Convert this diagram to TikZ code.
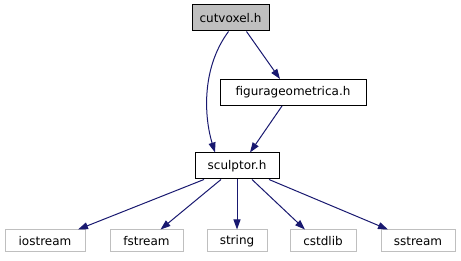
\documentclass[tikz,border=0pt]{standalone}
\usepackage{fontspec}
\setmainfont{DejaVu Sans}
\usepackage{tikz}
\usetikzlibrary{arrows.meta,positioning,calc}
\definecolor{edgeblue}{RGB}{25, 25, 112}
\definecolor{sysgray}{RGB}{191, 191, 191}
\tikzstyle{filebox} = [draw=black, rectangle, line width=1pt, inner sep=0, minimum height=26pt, font=\fontsize{12}{14}\selectfont]
\tikzstyle{sysbox} = [draw=sysgray, rectangle, line width=1pt, inner sep=0, minimum height=22pt, font=\fontsize{12}{14}\selectfont]
\tikzstyle{incl} = [draw=edgeblue, line width=1pt, -{Triangle[length=10pt,width=7pt]}]

\begin{document}
\begin{tikzpicture}[x=1pt,y=1pt]
    \useasboundingbox (0,0) rectangle (461,-261);
    % Headers of the project
    \node[filebox,fill=sysgray,minimum width=77pt] (cutvoxel) at (230.5,-18) {cutvoxel.h};
    \node[filebox,minimum width=146pt] (figura) at (293,-92.5) {figurageometrica.h};
    \node[filebox,minimum width=84pt] (sculptor) at (237,-166) {sculptor.h};
    % Standard library headers
    \node[sysbox,minimum width=80pt] (iostream) at (45,-241) {iostream};
    \node[sysbox,minimum width=73pt] (fstream) at (146.5,-241) {fstream};
    \node[sysbox,minimum width=60pt] (string) at (237,-241) {string};
    \node[sysbox,minimum width=66pt] (cstdlib) at (323,-241) {cstdlib};
    \node[sysbox,minimum width=74pt] (sstream) at (418,-241) {sstream};
    % Include edges
    \draw[incl] ($(cutvoxel.south)+(-2,0)$) .. controls (200,-70) and (205,-120) .. ($(sculptor.north)+(-22,0)$);
    \draw[incl] ($(cutvoxel.south)+(16,0)$) -- ($(figura.north)+(-13,0)$);
    \draw[incl] ($(figura.south)+(-11,0)$) -- ($(sculptor.north)+(13,0)$);
    \draw[incl] ($(sculptor.south)+(-33,0)$) -- ($(iostream.north)+(33,0)$);
    \draw[incl] ($(sculptor.south)+(-16,0)$) -- ($(fstream.north)+(14,0)$);
    \draw[incl] (sculptor) -- (string);
    \draw[incl] ($(sculptor.south)+(15,0)$) -- ($(cstdlib.north)+(-18,0)$);
    \draw[incl] ($(sculptor.south)+(32,0)$) -- ($(sstream.north)+(-30,0)$);
\end{tikzpicture}
\end{document}
